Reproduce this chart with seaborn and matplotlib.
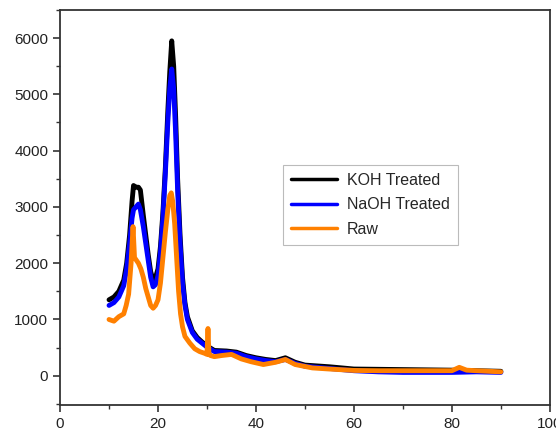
import numpy as np
import matplotlib
matplotlib.use("Agg")
import matplotlib.pyplot as plt
from matplotlib.ticker import MultipleLocator
import seaborn as sns
import pandas as pd

# 2-theta positions and intensities
koh_x = [10, 11, 12, 13, 13.6, 14.2, 14.7, 15.0, 15.5, 16.0, 16.4, 17, 17.5, 18, 18.5, 19, 19.5, 20, 20.5,
         21, 21.5, 22, 22.4, 22.8, 23.2, 23.6, 24, 24.5, 25, 25.5, 26, 27, 28, 29, 30, 31.5, 34, 36,
         38, 40, 42, 44, 46, 48, 50, 55, 60, 65, 70, 75, 80, 85, 90]
koh_y = [1350, 1400, 1500, 1700, 2000, 2500, 3100, 3380, 3350, 3350, 3300, 2850, 2500, 2150, 1850, 1700, 1750, 1900, 2300,
         2900, 3700, 4700, 5400, 5950, 5500, 4600, 3500, 2500, 1750, 1300, 1050, 800, 680, 600, 530, 450, 440, 420,
         360, 320, 290, 270, 320, 240, 190, 160, 120, 115, 110, 105, 100, 90, 80]

naoh_x = koh_x
naoh_y = [1250, 1300, 1400, 1600, 1900, 2350, 2800, 2950, 3000, 3050, 2950, 2650, 2350, 2050, 1750, 1580, 1620, 1780, 2200,
          2800, 3600, 4500, 5100, 5450, 5100, 4300, 3300, 2350, 1650, 1250, 1000, 770, 650, 580, 510, 430, 420, 400,
          340, 300, 270, 250, 290, 220, 170, 130, 90, 70, 60, 60, 60, 70, 60]

raw_x = [10, 11, 12, 13, 13.5, 14, 14.5, 14.9, 15.2, 15.6, 16, 16.5, 17, 17.5, 18, 18.5, 19, 19.5, 20,
         20.5, 21, 21.5, 22, 22.4, 22.7, 23.0, 23.4, 23.8, 24.2, 24.6, 25, 25.5, 26.5, 27.5, 28.5, 29.5, 30,
         30.2, 30.4, 30.7, 31.5, 33, 35, 37, 39, 41.5, 44, 46, 48, 51.5, 55, 60, 65, 70, 75, 80, 81.5, 83, 85, 90]
raw_y = [1000, 970, 1050, 1100, 1250, 1450, 2000, 2650, 2100, 2050, 2000, 1900, 1750, 1550, 1400, 1250, 1200, 1250, 1350,
         1650, 2100, 2550, 2950, 3200, 3250, 3100, 2700, 2100, 1500, 1100, 870, 700, 580, 480, 430, 400, 380,
         840, 380, 360, 340, 360, 380, 300, 250, 200, 240, 290, 200, 140, 120, 95, 90, 90, 90, 90, 150, 100, 90, 70]

series = ["KOH Treated", "NaOH Treated", "Raw"]
colors = ["#000000", "#0000ff", "#ff8000"]

df = pd.concat([
    pd.DataFrame({"x": koh_x, "y": koh_y, "s": series[0]}),
    pd.DataFrame({"x": naoh_x, "y": naoh_y, "s": series[1]}),
    pd.DataFrame({"x": raw_x, "y": raw_y, "s": series[2]}),
])

sns.set_style("ticks")
plt.rcParams["font.family"] = ["Liberation Sans", "DejaVu Sans"]

fig = plt.figure(figsize=(5.56, 4.30), dpi=100)
ax = fig.add_axes([0.108, 0.058, 0.881, 0.919])

sns.lineplot(data=df, x="x", y="y", hue="s", hue_order=series,
             palette=dict(zip(series, colors)), linewidth=3.5, ax=ax,
             estimator=None, sort=True)

ax.set_xlim(0, 100)
ax.set_ylim(-520, 6500)
ax.set_xlabel("")
ax.set_ylabel("")
ax.xaxis.set_major_locator(MultipleLocator(20))
ax.xaxis.set_minor_locator(MultipleLocator(10))
ax.yaxis.set_major_locator(MultipleLocator(1000))
ax.yaxis.set_minor_locator(MultipleLocator(500))
ax.tick_params(which="both", direction="out", colors="#333333", labelcolor="#222222", labelsize=11)
ax.tick_params(which="major", length=5, width=1.2)
ax.tick_params(which="minor", length=3, width=1.0)
for sp in ax.spines.values():
    sp.set_visible(True)
    sp.set_color("#333333")
    sp.set_linewidth(1.3)

leg = ax.legend(loc="upper left", bbox_to_anchor=(0.455, 0.608), borderaxespad=0,
                fontsize=11.5, frameon=True, fancybox=False, edgecolor="#aaaaaa",
                handlelength=2.9, handletextpad=0.6, borderpad=0.5, labelspacing=0.6)
leg.get_frame().set_linewidth(0.8)
for line in leg.get_lines():
    line.set_linewidth(2.5)

fig.savefig("out.png", dpi=100)
